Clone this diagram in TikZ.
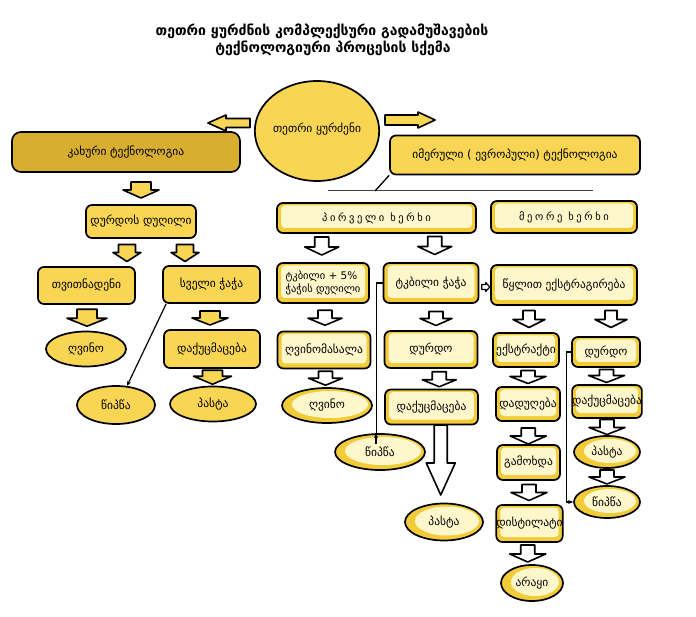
\documentclass[tikz,border=0pt]{standalone}
\usepackage{fontspec}
\setmainfont{DejaVu Sans}
\newfontfamily\geo{DejaVu Sans}
\usetikzlibrary{shapes.geometric,calc,arrows.meta}
\definecolor{yel}{HTML}{F8D553}
\definecolor{kakc}{HTML}{D8AE30}
\definecolor{band}{HTML}{F2CC38}
\definecolor{lighty}{HTML}{FFF7CC}
\tikzset{
  pics/darr/.style n args={5}{code={
    \path[#5] (-#1,{-(#3+#4)/2}) -- (#1,{-(#3+#4)/2}) -- (#1,{(#3-#4)/2}) -- (#2,{(#3-#4)/2})
      -- (0,{(#3+#4)/2}) -- (-#2,{(#3-#4)/2}) -- (-#1,{(#3-#4)/2}) -- cycle;
  }},
  yarr/.style={fill=yel, draw=black, line width=1.6pt, line join=round},
  warr/.style={fill=white, draw=black, line width=1.6pt, line join=round},
  base/.style={inner sep=0pt, font=\geo\fontsize{11.5}{13.5}\selectfont, align=center},
  ybox/.style={base, rectangle, rounded corners=6pt, draw=black, line width=1.7pt, fill=yel},
  kbox/.style={ybox, fill=kakc, rounded corners=9pt},
  yell/.style={base, ellipse, draw=black, line width=1.7pt, fill=yel},
  lbox/.style={base, rectangle, rounded corners=6pt, draw=black, line width=1.7pt, fill=band,
    path picture={\fill[lighty, rounded corners=4pt]
      ([shift={(4pt,5pt)}]path picture bounding box.south west) rectangle
      ([shift={(-4pt,-2.5pt)}]path picture bounding box.north east);}},
  lell/.style={base, ellipse, draw=black, line width=1.7pt, fill=band,
    path picture={\fill[lighty] let \p1=(path picture bounding box.north east),
      \p2=(path picture bounding box.center) in
      ($(\p2)+(3pt,1pt)$) ellipse [x radius={\x1-\x2-7pt}, y radius={\y1-\y2-4pt}];}},
  conn/.style={draw=black, line width=1.2pt, -{Stealth[length=5pt,width=4pt]}},
  spaced/.style={font=\geo\fontsize{10.5}{12}\selectfont\addfontfeature{LetterSpace=25}}
}
\begin{document}
\begin{tikzpicture}[x=1pt,y=-1pt]
\useasboundingbox[fill=white] (0,0) rectangle (696,617);
% title
\node[base, font=\geo\bfseries\fontsize{14}{16}\selectfont] (title1) at (322,31) {თეთრი ყურძნის კომპლექსური გადამუშავების};
\node[base, font=\geo\bfseries\fontsize{14}{16}\selectfont] (title2) at (333,48) {ტექნოლოგიური პროცესის სქემა};
% top level
\node[yell, minimum width=110pt, minimum height=100pt] (ell0) at (317,131) {\raisebox{6pt}{თეთრი ყურძენი}};
\node[kbox, minimum width=228pt, minimum height=40pt] (kak) at (126,152) {კახური ტექნოლოგია};
\node[ybox, minimum width=250pt, minimum height=39pt] (imer) at (515,155) {იმერული ( ევროპული) ტექნოლოგია};
\pic[rotate=-90] at ($(ell0.west)+(-25,-8)$) {darr={4.5}{8}{24}{18}{yarr}};
\pic[rotate=90] at ($(ell0.east)+(30,-11)$) {darr={5}{8}{33}{17}{yarr}};
% left branch
\node[ybox, minimum width=110pt, minimum height=33pt] (durdos) at (141,221.5) {დურდოს დუღილი};
\node[ybox, minimum width=97pt, minimum height=37pt] (tvit) at (86.5,285.5) {თვითნადენი};
\node[ybox, minimum width=97pt, minimum height=37pt] (sveli) at (211.5,284.5) {სველი ჭაჭა};
\node[yell, minimum width=80pt, minimum height=35pt] (ghvinoL) at (86,349) {ღვინო};
\node[ybox, minimum width=96pt, minimum height=38pt] (dakL) at (212,349) {დაქუცმაცება};
\node[yell, minimum width=86pt, minimum height=35pt] (pastaL) at (213,404) {პასტა};
\node[yell, minimum width=78pt, minimum height=38pt] (tsipsaL) at (116,405) {წიპწა};
\pic at ($(kak.south)!.5!(durdos.north)+(7.5,1.5)$) {darr={10}{18}{8}{8}{yarr}};
\pic at ($(durdos.south)!.5!(tvit.north)+(13.25,0.5)$) {darr={8.5}{14}{8}{9}{yarr}};
\pic at ($(durdos.south)!.5!(sveli.north)+(8.75,1)$) {darr={8.5}{14}{8}{9}{yarr}};
\pic at ($(tvit.south)!.5!(ghvinoL.north)+(0.75,0)$) {darr={10}{20}{9}{8}{yarr}};
\pic at ($(sveli.south)!.5!(dakL.north)+(-1.75,1.5)$) {darr={10}{18}{7}{7}{yarr}};
\pic at ($(dakL.south)!.5!(pastaL.north)$) {darr={10}{19}{6}{8}{yarr}};
\draw[conn] ([xshift=4pt]sveli.south west) -- (tsipsaL.60);
% right branch
\coordinate (hlL) at (328,191);
\coordinate (hlR) at (593,191);
\coordinate (hlJ) at (375,191);
\draw[line width=1pt, black!75] (hlL) -- (hlR);
\draw[line width=1.3pt] (imer.south west) -- (hlJ);
\node[lbox, minimum width=199pt, minimum height=30pt, spaced] (pirv) at (376.5,218) {პირველი ხერხი};
\node[lbox, minimum width=146pt, minimum height=32pt, spaced] (meore) at (564,217) {მეორე ხერხი};
\node[lbox, minimum width=92pt, minimum height=40pt, align=left, font=\geo\fontsize{10.5}{13}\selectfont] (tk5) at (323,283) {ტკბილი + 5\%\\ჭაჭის დუღილი};
\node[lbox, minimum width=95pt, minimum height=40pt] (tkch) at (431,283) {ტკბილი ჭაჭა};
\node[lbox, minimum width=146pt, minimum height=40pt] (tsqlit) at (564,285) {წყლით ექსტრაგირება};
\node[lbox, minimum width=93pt, minimum height=37pt] (ghvm) at (324,350) {ღვინომასალა};
\node[lbox, minimum width=93pt, minimum height=37pt] (durdoM) at (431,349.5) {დურდო};
\node[lell, minimum width=90pt, minimum height=35pt] (ghvinoR) at (327,405.5) {ღვინო};
\node[lbox, minimum width=93pt, minimum height=35pt] (dakM) at (431.5,407) {დაქუცმაცება};
\node[lell, minimum width=90pt, minimum height=36pt] (tsipsaM) at (380,452) {წიპწა};
\node[lell, minimum width=78pt, minimum height=37pt] (pastaM) at (444,522) {პასტა};
\node[lbox, minimum width=66pt, minimum height=34pt] (ekstr) at (526,350) {ექსტრაქტი};
\node[lbox, minimum width=68pt, minimum height=30pt] (durdoR) at (606,352) {დურდო};
\node[lbox, minimum width=64pt, minimum height=34pt] (dadug) at (528,404) {დადუღება};
\node[lbox, minimum width=66pt, minimum height=33pt] (dakR) at (607,401.5) {დაქუცმაცება};
\node[lbox, minimum width=63pt, minimum height=35pt] (gamokh) at (528.5,462.5) {გამოხდა};
\node[lell, minimum width=66pt, minimum height=32pt] (pastaR) at (607,452) {პასტა};
\node[lbox, minimum width=65pt, minimum height=37pt] (distil) at (529.5,523.5) {დისტილატი};
\node[lell, minimum width=66pt, minimum height=32pt] (tsipsaR) at (607,502) {წიპწა};
\node[lell, minimum width=62pt, minimum height=36pt] (arakyi) at (532,583) {არაყი};
% hollow arrows
\pic at ($(pirv.south)!.5!(tk5.north)+(-28,-2)$) {darr={7}{17}{10}{8}{warr}};
\pic at ($(pirv.south)!.5!(tkch.north)+(31,-2.5)$) {darr={7}{17}{10}{8}{warr}};
\pic at ($(tk5.south)!.5!(ghvm.north)+(1.5,0.5)$) {darr={7}{17}{8}{7}{warr}};
\pic at ($(ghvm.south)!.5!(ghvinoR.north)$) {darr={7}{17}{7}{7}{warr}};
\pic at ($(tkch.south)!.5!(durdoM.north)+(5,1.5)$) {darr={7}{16}{7}{7}{warr}};
\pic at ($(durdoM.south)!.5!(dakM.north)+(8,0.5)$) {darr={7}{17}{8}{7}{warr}};
\pic at ($(dakM.south)!.5!(pastaM.north)+(3,-4)$) {darr={6.5}{14.5}{38}{32}{warr}};
\pic at ($(tsqlit.south)!.5!(ekstr.north)+(-16,0)$) {darr={6}{16}{9}{8}{warr}};
\pic at ($(tsqlit.south)!.5!(durdoR.north)+(26,-2)$) {darr={6}{16}{9}{8}{warr}};
\pic at ($(ekstr.south)!.5!(dadug.north)+(1,0)$) {darr={7}{18}{6}{7}{warr}};
\pic at ($(durdoR.south)!.5!(dakR.north)$) {darr={7}{18}{6}{7}{warr}};
\pic at ($(dadug.south)!.5!(gamokh.north)+(0,3)$) {darr={7}{18}{8}{8}{warr}};
\pic at ($(dakR.south)!.5!(pastaR.north)$) {darr={7}{18}{8}{7}{warr}};
\pic at ($(gamokh.south)!.5!(distil.north)$) {darr={7}{18}{8}{8}{warr}};
\pic at ($(pastaR.south)!.5!(tsipsaR.north)$) {darr={7}{18}{7}{7}{warr}};
\pic at ($(distil.south)!.5!(arakyi.north)+(-3,0)$) {darr={7}{18}{9}{8}{warr}};
\pic[rotate=90] at ($(tkch.east)!.5!(tsqlit.west)+(1,3)$) {darr={2.5}{4.5}{4}{4}{warr, line width=1.2pt}};
% thin connectors
\draw[conn] (tkch.west) -- ++(-6,0) |- ([xshift=-4pt,yshift=-10pt]tsipsaM.north) -- ([xshift=-4pt]tsipsaM.north);
\draw[conn] (durdoR.west) -- ++(-5,0) |- (tsipsaR.west);
\end{tikzpicture}
\end{document}
